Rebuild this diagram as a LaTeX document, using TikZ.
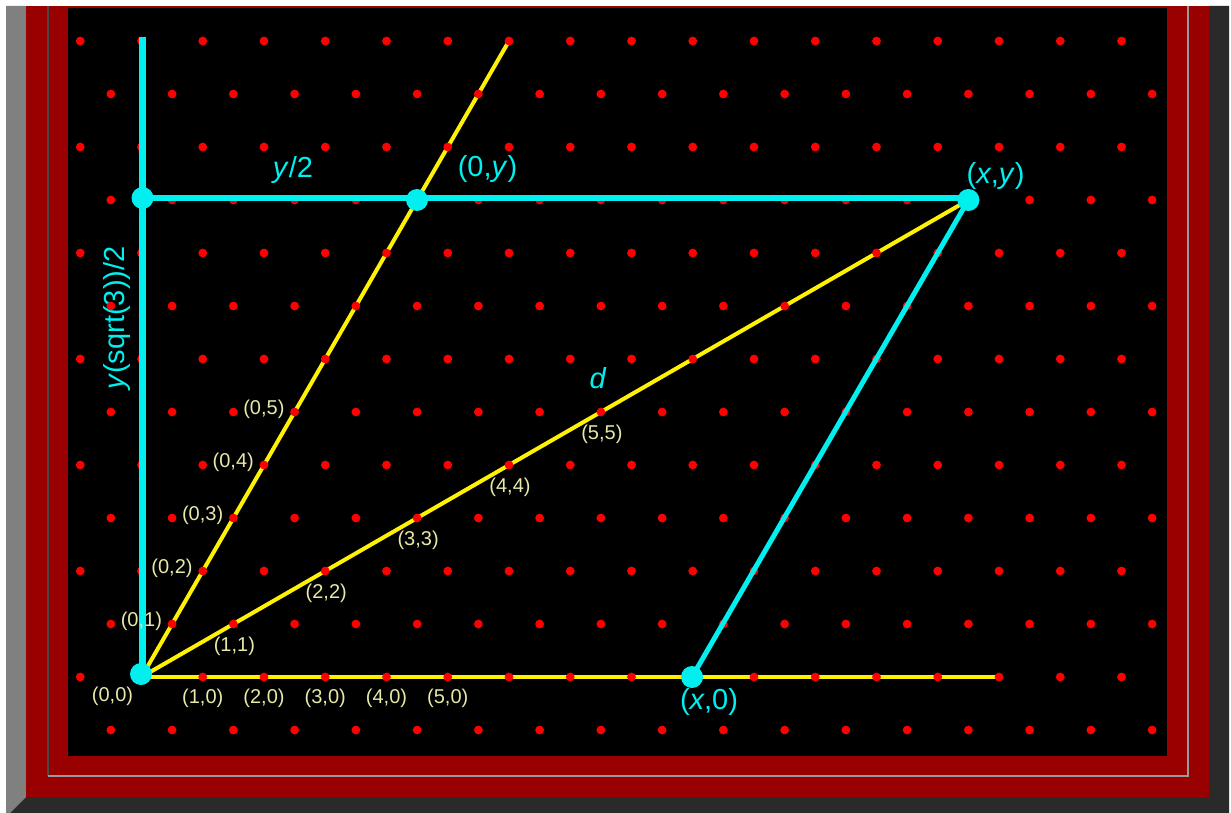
\documentclass[tikz,border=0pt]{standalone}
\usepackage{fontspec}
\setmainfont{Liberation Sans}
\definecolor{frred}{HTML}{990000}
\definecolor{frgray}{HTML}{808080}
\definecolor{frdark}{HTML}{2A2A2A}
\definecolor{lndark}{HTML}{4A4A4A}
\definecolor{lnlight}{HTML}{9A9A9A}
\definecolor{labyel}{RGB}{232,232,168}
\definecolor{cyn}{HTML}{00F0F0}
\begin{document}
\begin{tikzpicture}[x=1pt,y=-1pt,
  ylw/.style={draw=yellow,line width=4pt},
  cyv/.style={draw=cyn,line width=7.5pt},
  cyh/.style={draw=cyn,line width=6pt},
  cyd/.style={draw=cyn,line width=5pt},
  rdot/.style={fill=red},
  cdot/.style={fill=cyn},
  clab/.style={text=cyn,inner sep=0pt,font=\fontsize{29}{30}\selectfont},
  ylab/.style={text=labyel,inner sep=0pt,font=\fontsize{20}{21}\selectfont}]
\useasboundingbox (0,0) rectangle (1231,813);
\fill[white] (0,0) rectangle (1231,813);
% frame
\fill[frgray] (6,6) -- (26,6) -- (26,797) -- (10,813) -- (6,813) -- cycle;
\fill[frdark] (10,813) -- (26,797) -- (1209,797) -- (1209,6) -- (1229,6) -- (1229,813) -- cycle;
\fill[frred] (26,6) rectangle (1209,797);
\draw[line width=1.5pt,lndark] (48,6) -- (48,776);
\draw[line width=1.5pt,lnlight] (48,776) -- (1188,776) -- (1188,6);
\fill[black] (68,8) rectangle (1167,756);
% key points
\coordinate (O) at (141.5,677);
\coordinate (X14) at (999,677);
\coordinate (Y12) at (509,41);
\coordinate (XY) at (968.4,200);
\coordinate (X0) at (692,677);
\coordinate (Y0) at (417,200);
\coordinate (VT) at (142.5,37);
\coordinate (VB) at (142.5,674);
\coordinate (H) at (142.5,198);
\coordinate (HR) at (968.4,198);
\coordinate (OC) at (141,674);
% yellow lines
\draw[ylw] (O) -- (X14);
\draw[ylw] (O) -- (Y12);
\draw[ylw] (O) -- (XY);
% rotated label (under the dots)
\node[clab,rotate=90] (lsq) at (117,318) {\textit{y}(sqrt(3))/2};
% lattice
\foreach \j in {0,2,...,12}{
  \foreach \k in {0,...,17}{
    \fill[rdot] ({80.25+61.25*\k},{677-53*\j}) circle[radius=4.4pt];
  }
}
\foreach \j in {-1,1,...,11}{
  \foreach \k in {0,...,17}{
    \fill[rdot] ({110.875+61.25*\k},{677-53*\j}) circle[radius=4.4pt];
  }
}
% cyan lines
\draw[cyv] (VT) -- (VB);
\draw[cyh] (H) -- (HR);
\draw[cyd] (X0) -- (XY);
% cyan dots
\foreach \p in {OC,H,Y0,XY,X0}{
  \fill[cdot] (\p) circle[radius=11pt];
}
% cyan labels
\node[clab] (ly2) at (293,170) {\textit{y}/2};
\node[clab] (l0y) at (487.5,169.5) {(0,\textit{y})};
\node[clab] (lxy) at (995.5,176) {(\textit{x},\textit{y})};
\node[clab] (ld) at (598,378) {\textit{d}};
\node[clab] (lx0) at (709,701.5) {(\textit{x},0)};
% yellow labels
\node[ylab] (l00) at (112.5,696) {(0,0)};
\foreach \i in {1,...,5}{
  \node[ylab] (la\i) at ({141.5+61.25*\i},698) {(\i,0)};
  \node[ylab] (lb\i) at ({142.5+91.875*\i},{699-53*\i}) {(\i,\i)};
  \node[ylab,anchor=east] (lc\i) at ({131.5+30.625*\i},{674-53*\i}) {(0,\i)};
}
\end{tikzpicture}
\end{document}
